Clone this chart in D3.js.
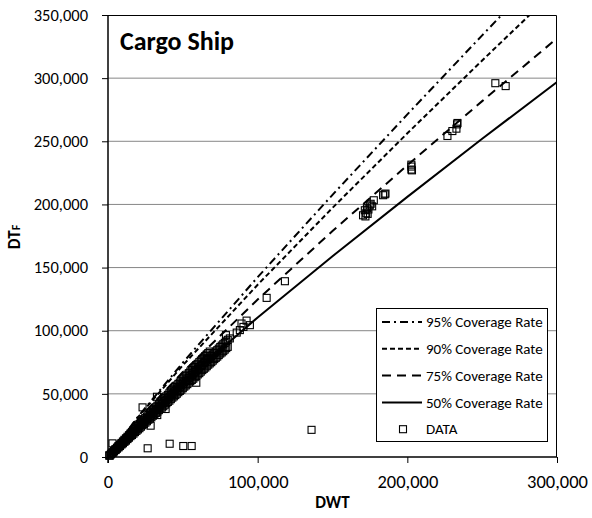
<!DOCTYPE html>
<html>
<head>
<meta charset="utf-8">
<script src="https://cdn.jsdelivr.net/npm/d3@7"></script>
<style>
  body { margin: 0; background: #fff; }
  text { font-family: Carlito, Calibri, "Liberation Sans", Arial, sans-serif; fill: #000; }
</style>
</head>
<body>
<svg id="chart" width="592" height="518"></svg>
<script>
// tick values
var xTicks = [0, 100000, 200000, 300000];
var yTicks = [0, 50000, 100000, 150000, 200000, 250000, 300000, 350000];

// coverage rate lines, [DWT, DTF]
var line95 = [[0,0],[20000,31900],[50000,74700],[100000,142400],[150000,207600],[200000,271300],[250000,333900],[263000,350000]];
var line90 = [[0,0],[20000,31500],[50000,72600],[100000,136400],[150000,197300],[200000,256300],[250000,314000],[281700,350000]];
var line75 = [[0,0],[20000,29800],[50000,67300],[100000,124700],[150000,178900],[200000,231000],[250000,281800],[300000,331500]];
var line50 = [[0,0],[20000,26000],[50000,59200],[100000,110500],[150000,159000],[200000,206000],[250000,252000],[300000,297000]];

var legendNames = ["95% Coverage Rate", "90% Coverage Rate", "75% Coverage Rate", "50% Coverage Rate", "DATA"];

// the dense band of small ships, in thousands of tonnes (DWT, then DTF of a lower, middle and upper row)
var massDWTk = [1,2,3,4,5,6,7,8,9,10,11,12,13,14,15,16,17,18,19,20,21,22,23,24,25,26,27,28,29,30,
  31,32,33,34,35,36,37,38,39,40,41,42,43,44,45,46,47,48,49,50,51,52,53,54,55,56,57,58,59,60,
  61,62,63,64,65,66,67,68,69,70,71,72,73,74,75,76,77,78,79,80];
var massLowK = [1.1,2.2,3.2,4.4,5.5,6.6,7.6,8.7,9.9,10.9,12.0,13.0,14.2,15.3,16.5,17.4,18.5,19.7,20.7,21.8,
  22.8,24.0,25.2,26.2,27.2,28.3,29.5,30.5,31.5,32.7,33.9,34.9,35.9,37.1,38.3,39.2,40.2,41.4,42.6,43.6,
  44.6,45.8,47.0,48.0,49.0,50.1,51.3,52.3,53.3,54.5,55.7,56.7,57.7,58.9,60.1,61.0,62.0,63.2,64.4,65.4,
  66.4,67.6,68.8,69.8,70.8,71.9,73.1,74.1,75.1,76.3,77.5,78.5,79.5,80.7,81.9,82.8,83.8,85.0,86.2,87.2];
var massMidK = [1.2,2.3,3.5,4.7,5.8,7.0,8.2,9.3,10.4,11.6,12.8,13.9,15.0,16.2,17.5,18.6,19.7,20.8,22.0,23.2,
  24.4,25.5,26.6,27.8,29.1,30.2,31.3,32.4,33.6,34.8,36.0,37.1,38.2,39.4,40.7,41.8,42.9,44.0,45.2,46.4,
  47.6,48.7,49.8,51.0,52.3,53.4,54.5,55.6,56.8,58.0,59.2,60.3,61.4,62.6,63.9,65.0,66.1,67.2,68.4,69.6,
  70.8,71.9,73.0,74.2,75.5,76.6,77.7,78.8,80.0,81.2,82.4,83.5,84.6,85.8,87.1,88.2,89.3,90.4,91.6,92.8];
var massHighK = [1.3,2.5,3.8,4.9,6.2,7.4,8.7,9.8,11.1,12.3,13.6,14.8,16.0,17.2,18.5,19.7,21.0,22.1,23.4,24.6,
  25.9,27.1,28.3,29.5,30.8,32.0,33.3,34.4,35.7,36.9,38.2,39.4,40.6,41.8,43.1,44.3,45.6,46.7,48.0,49.2,
  50.5,51.7,52.9,54.1,55.4,56.6,57.9,59.0,60.3,61.5,62.8,64.0,65.2,66.4,67.7,68.9,70.2,71.3,72.6,73.8,
  75.1,76.3,77.4,78.6,79.9,81.1,82.3,83.5];

// scattered ships [DWT, DTF]
var shipScatter = [
  [3000,10800],[23100,39300],[38500,38000],[32900,33200],[28500,24800],[32700,47700],
  [59000,58800],[58000,68800],[65900,78000],[78800,96500],[81400,93900],[86000,98500],
  [88100,100500],[89200,105700],[90500,103000],[92600,108000],[94800,104400],[106000,126000],
  [118200,139200],[26500,6900],[41200,10500],[50300,8700],[55900,8700],[136000,21500],
  [170400,191400],[171600,195400],[172500,193000],[173000,197000],[174000,196000],[174900,199300],
  [175500,200500],[176500,198500],[177600,203300],[172000,190500],[173500,192500],
  [183800,207300],[184900,208000],[185400,208600],
  [202700,230000],[202700,227600],[203100,227000],[202700,231500],
  [226800,254200],[230100,258100],[232800,260000],[233200,263400],[233500,264500],
  [258800,296000],[265700,293700]
];

var svg = d3.select("#chart");
var margin = { left: 108, right: 35, top: 15, bottom: 61 };
var W = 592 - margin.left - margin.right;
var H = 518 - margin.top - margin.bottom;

var x = d3.scaleLinear().domain([0, 300000]).range([0, W]);
var y = d3.scaleLinear().domain([0, 350000]).range([H, 0]);
var fmt = d3.format(",");

var g = svg.append("g").attr("transform", "translate(" + margin.left + "," + margin.top + ")");

g.append("clipPath").attr("id", "plotclip")
  .append("rect").attr("width", W).attr("height", H);

// gridlines
g.selectAll("line.grid")
    .data(yTicks.filter(function(d) { return d > 0 && d < 350000 }))
  .enter().append("line")
    .attr("class", "grid")
    .attr("x1", 0).attr("x2", W)
    .attr("y1", function(d) { return y(d) }).attr("y2", function(d) { return y(d) })
    .attr("stroke", "#868686").attr("stroke-width", 1);

// frame top + right
g.append("path")
  .attr("d", "M0,0.5H" + (W - 0.5) + "V" + H)
  .attr("fill", "none").attr("stroke", "#000").attr("stroke-width", 1);

// lines
var line = d3.line()
  .x(function(d) { return x(d[0]) })
  .y(function(d) { return y(d[1]) });

var series = [
  { data: line95, dash: "8,4,2,4" },
  { data: line90, dash: "5,3" },
  { data: line75, dash: "9,6" },
  { data: line50, dash: null }
];

var lines = g.append("g").attr("clip-path", "url(#plotclip)");
lines.selectAll("path")
    .data(series)
  .enter().append("path")
    .attr("d", function(s) { return line(s.data) })
    .attr("fill", "none")
    .attr("stroke", "#000")
    .attr("stroke-width", 2)
    .attr("stroke-dasharray", function(s) { return s.dash });

// data markers
var pts = [];
massDWTk.forEach(function(d, i) {
  pts.push([d * 1000, massLowK[i] * 1000]);
  pts.push([d * 1000, massMidK[i] * 1000]);
  if (i < massHighK.length) pts.push([d * 1000, massHighK[i] * 1000]);
});
pts = pts.concat(shipScatter);

g.append("g").selectAll("rect")
    .data(pts)
  .enter().append("rect")
    .attr("x", function(d) { return x(d[0]) - 3.5 })
    .attr("y", function(d) { return y(d[1]) - 3.5 })
    .attr("width", 7).attr("height", 7)
    .attr("fill", "none").attr("stroke", "#000").attr("stroke-width", 1.1);

// axes
var yAxis = d3.axisLeft(y).tickValues(yTicks).tickFormat(fmt).tickSize(6).tickPadding(14);
var xAxis = d3.axisBottom(x).tickValues(xTicks).tickFormat(fmt).tickSize(6).tickPadding(14);

var ya = g.append("g").call(yAxis);
ya.select(".domain").attr("d", "M0," + (H + 6) + "V0").attr("stroke-width", 1.5);
ya.selectAll("text").style("font-size", "16.5px").attr("fill", "#000");

var xa = g.append("g").attr("transform", "translate(0," + H + ")").call(xAxis);
xa.select(".domain").attr("d", "M0,0H" + W).attr("stroke-width", 1.5);
xa.selectAll("text").style("font-size", "18.5px").attr("fill", "#000").attr("dy", "0.6em");

// titles
g.append("text").attr("x", 12).attr("y", 35)
  .style("font-size", "26px").style("font-weight", "bold").text("Cargo Ship");

svg.append("text").attr("x", margin.left + W / 2).attr("y", 508)
  .attr("text-anchor", "middle").style("font-size", "17px").style("font-weight", "bold").text("DWT");

var yt = svg.append("text")
  .attr("transform", "translate(20,237) rotate(-90)")
  .attr("text-anchor", "middle").style("font-size", "17px").style("font-weight", "bold");
yt.append("tspan").text("DT");
yt.append("tspan").style("font-size", "12px").text("F");

// legend
var lg = svg.append("g").attr("transform", "translate(376,308)");
lg.append("rect").attr("x", 0.5).attr("y", 0.5).attr("width", 171).attr("height", 133)
  .attr("fill", "#fff").attr("stroke", "#000").attr("stroke-width", 1);

var rows = lg.selectAll("g.row")
    .data(legendNames)
  .enter().append("g")
    .attr("class", "row")
    .attr("transform", function(d, i) { return "translate(0," + (14 + i * 26.8) + ")" });

rows.each(function(d, i) {
  var r = d3.select(this);
  if (i < 4) {
    r.append("line").attr("x1", 6).attr("x2", 46).attr("y1", 0).attr("y2", 0)
      .attr("stroke", "#000").attr("stroke-width", 2)
      .attr("stroke-dasharray", series[i].dash);
  } else {
    r.append("rect").attr("x", 23.5).attr("y", -3.5).attr("width", 7).attr("height", 7)
      .attr("fill", "none").attr("stroke", "#000").attr("stroke-width", 1.1);
  }
  r.append("text").attr("x", 50).attr("y", 0).attr("dy", "0.35em")
    .style("font-size", "15px").text(d);
});
</script>
</body>
</html>
